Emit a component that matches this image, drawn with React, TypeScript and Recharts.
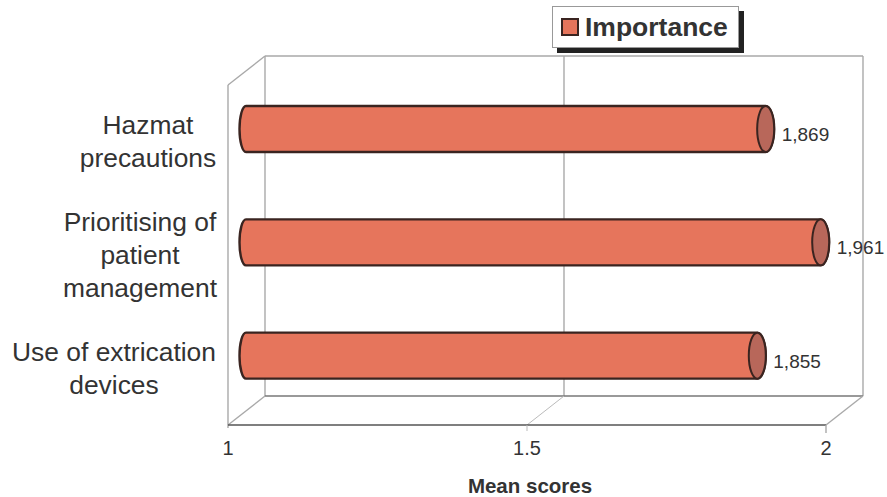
import React from "react";
import { BarChart, Bar, XAxis, YAxis, LabelList, Legend } from "recharts";

const categories = ["Hazmat precautions", "Prioritising of patient management", "Use of extrication devices"];
const categoryLines = [["Hazmat", "precautions"], ["Prioritising of", "patient", "management"], ["Use of extrication", "devices"]];
const importance = [1.869, 1.961, 1.855];
const valueLabels = ["1,869", "1,961", "1,855"];
const xTicks = [1, 1.5, 2];
const seriesName = "Importance";
const axisTitle = "Mean scores";

const data = categories.map((c, i) => ({ category: c, importance: importance[i], label: valueLabels[i] }));

const W = 887, H = 497;
const LEFT = 228, TOP = 85, PLOT_W = 598, PLOT_H = 340;
const DX = 37, DY = 29;        // depth of the 3D box
const BX = 18, BY = -13;       // bar depth shift
const TICK_CENTERS = [148, 140, 114];
const FILL = "#e6755c", OUT = "#3a2420", CAP = "#b8675a";
const GRID = "#a9a9a9", TXT = "#333333";

const Frame = () => {
  const L = LEFT, R = LEFT + PLOT_W, B = TOP + PLOT_H, T = TOP;
  const mid = (L + R) / 2;
  const line = (x1: number, y1: number, x2: number, y2: number, c = GRID, w = 1.4) => (
    <line x1={x1} y1={y1} x2={x2} y2={y2} stroke={c} strokeWidth={w} />
  );
  return (
    <g>
      {line(L, T, L, B + 3)}
      {line(L, T, L + DX, T - DY)}
      {line(L + DX, T - DY, R + DX, T - DY)}
      {line(L + DX, T - DY, L + DX, B - DY)}
      {line(R + DX, T - DY, R + DX, B - DY)}
      {line(mid + DX, T - DY, mid + DX, B - DY)}
      {line(L + DX, B - DY, R + DX, B - DY, "#777")}
      {line(L, B, L + DX, B - DY)}
      {line(mid, B, mid + DX, B - DY, "#bbb", 1)}
      {line(R, B, R + DX, B - DY)}
      {line(L, B, R, B, "#555", 1.4)}
      {line(R, B, R, B + 8)}
      {line(mid, B, mid, B + 6, "#bbb", 1)}
    </g>
  );
};

const Cylinder = (p: any) => {
  const { x, y, width, height } = p;
  const cx0 = x + BX, cx1 = x + width + BX, cy = y + height / 2 + BY;
  const ry = height / 2, rx = 8.5, rxLeft = 6.5;
  const body = `M${cx0},${cy - ry} L${cx1},${cy - ry} A${rx},${ry} 0 0 1 ${cx1},${cy + ry} L${cx0},${cy + ry} A${rxLeft},${ry} 0 0 1 ${cx0},${cy - ry} Z`;
  return (
    <g>
      <path d={body} fill={FILL} stroke={OUT} strokeWidth={2.4} strokeLinejoin="round" />
      <ellipse cx={cx1} cy={cy} rx={rx} ry={ry} fill={CAP} stroke={OUT} strokeWidth={2} />
    </g>
  );
};

const ValueLabel = (p: any) => {
  const { x, y, width, height, value } = p;
  return (
    <text x={x + width + BX + 16} y={y + height / 2 + BY + 12} fontSize={19} fill={TXT} fontFamily="Liberation Sans">{value}</text>
  );
};

const CatTick = (p: any) => {
  const { y, payload, index } = p;
  const lines = categoryLines[index] ?? [payload.value];
  const lh = 33.3;
  const y0 = y - ((lines.length - 1) * lh) / 2 + 9;
  return (
    <text textAnchor="middle" fontSize={26.4} fill={TXT} fontFamily="Liberation Sans">
      {lines.map((l: string, i: number) => (
        <tspan key={i} x={TICK_CENTERS[index]} y={y0 + i * lh}>{l}</tspan>
      ))}
    </text>
  );
};

const LegendBox = () => (
  <div style={{ position: "absolute", left: 552, top: 6, width: 0, height: 0 }}>
    <div style={{ position: "absolute", left: 5, top: 5, width: 187, height: 42, background: "#222" }} />
    <div style={{ position: "absolute", left: 0, top: 0, width: 187, height: 42, boxSizing: "border-box", background: "#fff", border: "1px solid #999", display: "flex", alignItems: "center", paddingLeft: 8, whiteSpace: "nowrap" }}>
      <span style={{ display: "inline-block", flex: "none", width: 18, height: 18, boxSizing: "border-box", background: FILL, border: "2.5px solid #3a2420", marginRight: 6 }} />
      <span style={{ font: "bold 26.5px 'Liberation Sans'", color: TXT }}>{seriesName}</span>
    </div>
  </div>
);

export default function App() {
  return (
    <div style={{ position: "absolute", left: 0, top: 0, width: W, height: H }}>
      <BarChart
        layout="vertical"
        width={W}
        height={H}
        data={data}
        margin={{ top: TOP, left: 0, right: W - LEFT - PLOT_W, bottom: 0 }}
        barSize={46}
      >
        <Frame />
        <XAxis
          type="number"
          dataKey="importance"
          domain={[1, 2]}
          ticks={xTicks}
          axisLine={false}
          tickLine={false}
          height={H - TOP - PLOT_H}
          tickMargin={10}
          tick={{ fontSize: 20, fill: TXT, fontFamily: "Liberation Sans" }}
          label={{ value: axisTitle, position: "insideBottom", offset: 4, dx: 3, fontSize: 20.5, fontWeight: 700, fill: TXT, fontFamily: "Liberation Sans" }}
          interval={0}
        />
        <YAxis type="category" dataKey="category" width={LEFT} axisLine={false} tickLine={false} tick={<CatTick />} interval={0} />
        <Bar dataKey="importance" name={seriesName} shape={<Cylinder />} isAnimationActive={false}>
          <LabelList dataKey="label" content={<ValueLabel />} />
        </Bar>
        <Legend content={() => <LegendBox />} wrapperStyle={{ position: "absolute", left: 0, top: 0, width: 0, height: 0 }} />
      </BarChart>
    </div>
  );
}
